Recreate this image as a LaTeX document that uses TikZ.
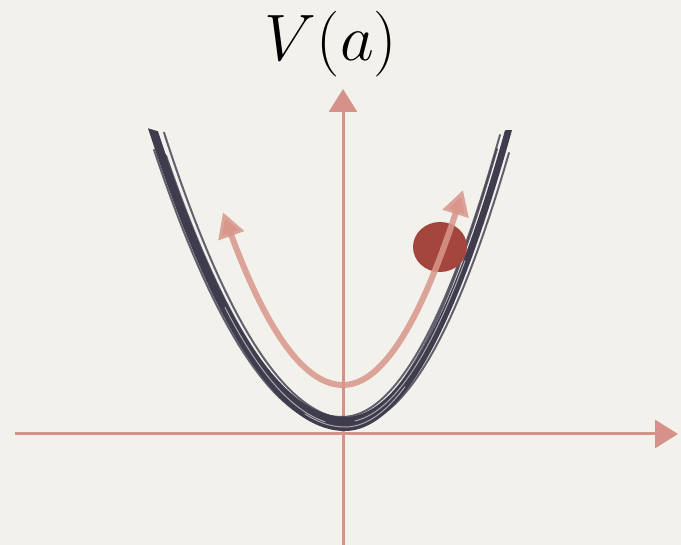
\documentclass[tikz,border=0pt]{standalone}
\usetikzlibrary{arrows.meta}
\usetikzlibrary{shapes.geometric}

\definecolor{paper}{HTML}{F3F1EC}
\definecolor{axiscol}{HTML}{D6918A}
\definecolor{swingcol}{HTML}{D9968A}
\definecolor{inkcol}{HTML}{3E3C4D}
\definecolor{ballcol}{HTML}{A5463E}

\begin{document}
\begin{tikzpicture}[x=0.5pt, y=-0.5pt,
  axis/.style={axiscol, line width=1.5pt, -{Triangle[length=11.5pt,width=14pt]}},
  ink/.style={inkcol, line width=1pt, line cap=round, opacity=0.8},
  streak/.style={paper, line width=0.5pt, line cap=round, opacity=0.6},
  swing/.style={swingcol, line width=3pt, opacity=0.85,
    {Triangle[length=12.5pt,width=13pt]}-{Triangle[length=12.5pt,width=13pt]}}]

% page (pixel units, y down)
\fill[paper] (0,0) rectangle (681,545);
\useasboundingbox (0,0) rectangle (681,545);

% curvature of the well (times 100): outer and inner edge, left and right
\def\klo{0.780}
\def\kli{0.817}
\def\kro{1.079}
\def\kri{1.12}
% curvature of the swing path (times 100)
\def\sl{1.20}
\def\sr{1.354}

% axes
\coordinate (xstart) at (15,434);
\coordinate (xend) at (678,434);
\coordinate (ystart) at (343,545);
\coordinate (yend) at (343,89);
\draw[axis] (xstart) -- (xend);
\draw[axis] (ystart) -- (yend);

% label
\node[scale=1.32] (vlabel) at (331,44.5) {\Huge $V(a)$};

% the well: a brush stroke of varying width
\fill[inkcol]
  plot[domain=-197:167, samples=90]
    ({345+\x},{431-((\x<0)*\klo+(\x>=0)*\kro)*(\x/10)*(\x/10)})
  -- plot[domain=160:-187, samples=90]
    ({345+\x},{417-((\x<0)*\kli+(\x>=0)*\kri)*(\x/10)*(\x/10)})
  -- cycle;
% rough strands
\foreach \dh/\dv/\dk in {-6/3/-0.01, 4/-4/0.02, 6/2/-0.03, -3/-6/0.01} {
  \draw[ink] plot[domain=-185:158, samples=70]
    ({345+\dh+\x},{423+\dv-((\x<0)*\kli+(\x>=0)*\kri+\dk)*(\x/10)*(\x/10)});
}
% light streaks inside the stroke
\foreach \dv/\a/\b in {2/-120/-20, -1/10/120, 4/-40/60} {
  \draw[streak] plot[domain=\a:\b, samples=40]
    ({345+\x},{423+\dv-((\x<0)*\kli+(\x>=0)*\kri)*(\x/10)*(\x/10)});
}

% ball
\node[ellipse, fill=ballcol, minimum width=27pt, minimum height=25pt, inner sep=0pt]
  (ball) at (440,247) {};

% swing path
\draw[swing] plot[domain=-120:120, samples=60]
  ({343+\x},{385-((\x<0)*\sl+(\x>=0)*\sr)*(\x/10)*(\x/10)});

\end{tikzpicture}
\end{document}
